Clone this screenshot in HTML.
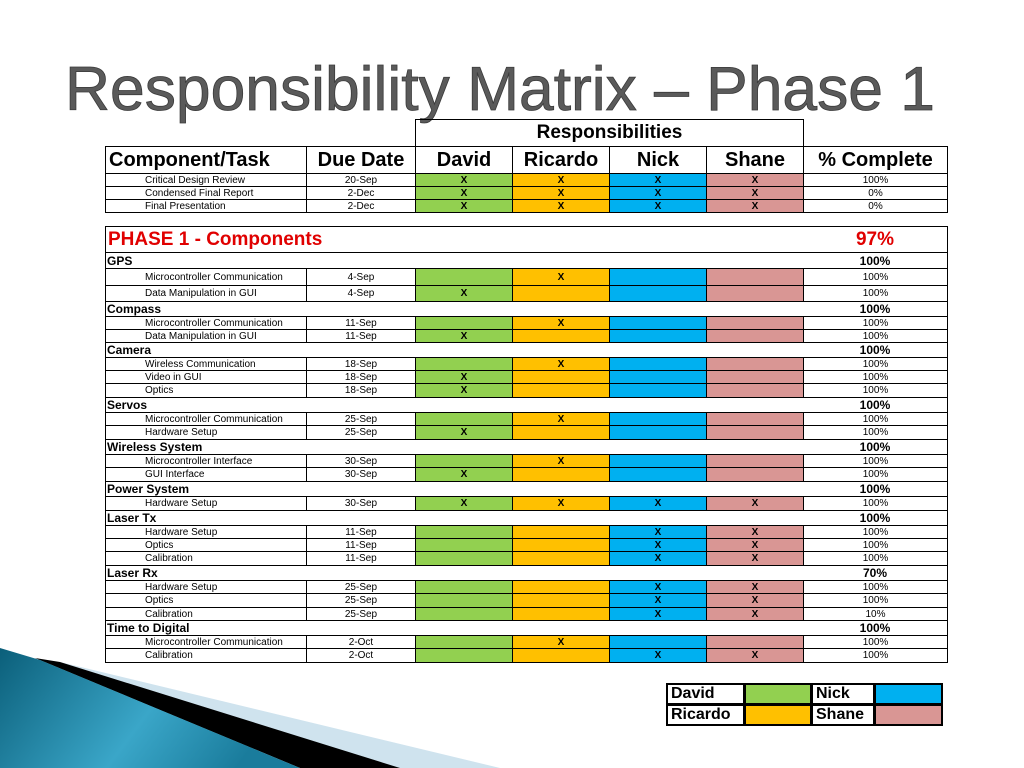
<!DOCTYPE html>
<html><head><meta charset="utf-8"><style>
body{margin:0;width:1024px;height:768px;background:#fff;position:relative;overflow:hidden;font-family:"Liberation Sans",Arial,sans-serif}
.c{position:absolute;box-sizing:border-box;display:flex;align-items:center;justify-content:center;white-space:nowrap;color:#000}
.l{justify-content:flex-start}
</style></head><body>
<svg width="1024" height="768" style="position:absolute;left:0;top:0">
<defs><linearGradient id="tg" x1="0" y1="0" x2="1" y2="0.3"><stop offset="0" stop-color="#0b5f7a"/><stop offset="0.6" stop-color="#3aa6c8"/><stop offset="1" stop-color="#1a7c9c"/></linearGradient></defs>
<polygon points="60,662 500,768 390,768" fill="#cfe3ee"/>
<polygon points="35,658 60,662 400,768 300,768" fill="#000"/>
<polygon points="0,648 40,660 300,768 0,768" fill="url(#tg)"/>
<text x="65" y="110" font-family="Liberation Sans" font-size="62" fill="#5a5a5a" textLength="870" lengthAdjust="spacingAndGlyphs" stroke="#3a3a3a" stroke-width="0.8">Responsibility Matrix – Phase 1</text>
</svg>
<div id="root"></div>
<script>
const people=["David","Ricardo","Nick","Shane"];
const colors=["#92d050","#ffc000","#00b0f0","#d99694"];
const topTasks=["Critical Design Review","Condensed Final Report","Final Presentation"];
const topDates=["20-Sep","2-Dec","2-Dec"];
const topAssign=["1111","1111","1111"];
const topPct=["100%","0%","0%"];
const phaseTotal="97%";
const groups=["GPS","Compass","Camera","Servos","Wireless System","Power System","Laser Tx","Laser Rx","Time to Digital"];
const groupPct=["100%","100%","100%","100%","100%","100%","100%","70%","100%"];
const tasks=[
[["Microcontroller Communication","4-Sep","0100","100%"],["Data Manipulation in GUI","4-Sep","1000","100%"]],
[["Microcontroller Communication","11-Sep","0100","100%"],["Data Manipulation in GUI","11-Sep","1000","100%"]],
[["Wireless Communication","18-Sep","0100","100%"],["Video in GUI","18-Sep","1000","100%"],["Optics","18-Sep","1000","100%"]],
[["Microcontroller Communication","25-Sep","0100","100%"],["Hardware Setup","25-Sep","1000","100%"]],
[["Microcontroller Interface","30-Sep","0100","100%"],["GUI Interface","30-Sep","1000","100%"]],
[["Hardware Setup","30-Sep","1111","100%"]],
[["Hardware Setup","11-Sep","0011","100%"],["Optics","11-Sep","0011","100%"],["Calibration","11-Sep","0011","100%"]],
[["Hardware Setup","25-Sep","0011","100%"],["Optics","25-Sep","0011","100%"],["Calibration","25-Sep","0011","10%"]],
[["Microcontroller Communication","2-Oct","0100","100%"],["Calibration","2-Oct","0011","100%"]]
];
const groupH=[16,15,15,15,15,15,15,15,15];
const taskH=[[17,16],[13,13],[13,13,14],[13,14],[13,14],[14],[13,13,14],[13,14,13],[13,14]];
const X=[105,306,415,512,609,706,803,947];
const root=document.getElementById('root');
function cell(x,y,w,h,txt,st,name){const d=document.createElement('div');d.className='c';


d.style.cssText=`left:${x}px;top:${y}px;width:${w}px;height:${h}px;`+(st||'');d.textContent=txt;root.appendChild(d);return d;}
const B='border:1px solid #000;';
cell(415,119,389,28,"Responsibilities",B+"font-size:19px;font-weight:bold;",'responsibilities-header');
const hdr=["Component/Task","Due Date",...people,"% Complete"];
for(let i=0;i<7;i++)cell(X[i],146,X[i+1]-X[i]+1,28,hdr[i],B+"font-size:20px;font-weight:bold;"+(i==0?"justify-content:flex-start;padding-left:3px;":""),'column-header');
for(let r=0;r<3;r++){const y=173+r*13;
cell(X[0],y,X[1]-X[0]+1,14,topTasks[r],B+"font-size:10px;justify-content:flex-start;padding-left:39px;",'task-name');
cell(X[1],y,X[2]-X[1]+1,14,topDates[r],B+"font-size:10px;",'due-date');
for(let p=0;p<4;p++)cell(X[2+p],y,X[3+p]-X[2+p]+1,14,topAssign[r][p]=='1'?"X":"",B+"font-size:10px;font-weight:bold;background:"+colors[p]+";",'assignment-cell');
cell(X[6],y,X[7]-X[6]+1,14,topPct[r],B+"font-size:10px;",'percent-complete');}
cell(105,226,843,27,"",B,'phase-header-row');
cell(108,226,300,27,"PHASE 1 - Components","font-size:19px;font-weight:bold;justify-content:flex-start;",'phase-title').style.color='#e00000';
cell(803,226,144,27,phaseTotal,"font-size:19px;font-weight:bold;",'phase-percent').style.color='#e00000';
let y=252;
for(let g=0;g<groups.length;g++){const gh=groupH[g];
cell(105,y,843,gh+1,"",B,'group-row');
cell(107,y,300,gh+1,groups[g],"font-size:12px;font-weight:bold;justify-content:flex-start;",'group-name');
cell(X[6],y,X[7]-X[6],gh+1,groupPct[g],"font-size:12px;font-weight:bold;",'group-percent');
y+=gh;
tasks[g].forEach((t,i)=>{const h=taskH[g][i];
cell(X[0],y,X[1]-X[0]+1,h+1,t[0],B+"font-size:10px;justify-content:flex-start;padding-left:39px;",'task-name');
cell(X[1],y,X[2]-X[1]+1,h+1,t[1],B+"font-size:10px;",'due-date');
for(let p=0;p<4;p++)cell(X[2+p],y,X[3+p]-X[2+p]+1,h+1,t[2][p]=='1'?"X":"",B+"font-size:10px;font-weight:bold;background:"+colors[p]+";",'assignment-cell');
cell(X[6],y,X[7]-X[6]+1,h+1,t[3],B+"font-size:10px;",'percent-complete');
y+=h;});}
const LX=[666,744,811,874,942];
[[0,2],[1,3]].forEach((pr,r)=>{const ly=683+r*21;
pr.forEach((p,k)=>{cell(LX[k*2],ly,LX[k*2+1]-LX[k*2]+1,22,people[p],"border:2px solid #000;font-size:16px;font-weight:bold;justify-content:flex-start;padding-left:3px;",'legend-label');
cell(LX[k*2+1],ly,LX[k*2+2]-LX[k*2+1]+1,22,"","border:2px solid #000;background:"+colors[p]+";",'legend-swatch');});});
</script>
</body></html>
